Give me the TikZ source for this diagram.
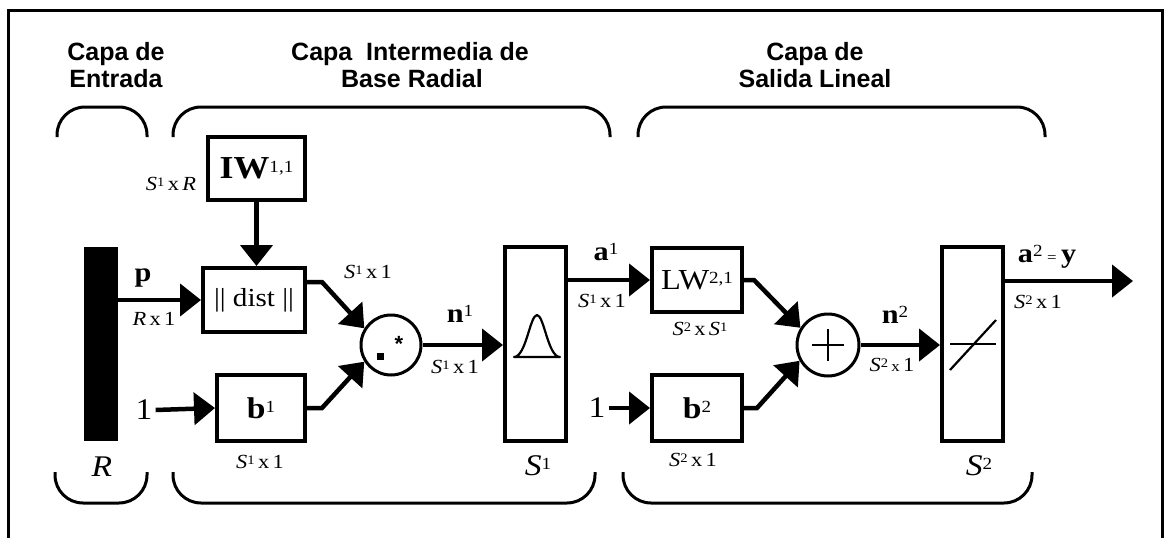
\documentclass[tikz,border=0pt]{standalone}
\usepackage{fontspec}
\setmainfont{Liberation Serif}[FakeStretch=1.12]
\newfontfamily\titlefont{Liberation Sans}
\usetikzlibrary{arrows.meta}
\newcommand{\lsup}[1]{\raisebox{4pt}{\fontsize{13}{13}\selectfont #1}}
\newcommand{\bsup}[1]{\raisebox{6pt}{\fontsize{17}{17}\selectfont\mdseries #1}}
\newcommand{\Sx}[1]{\textit{S}\lsup{#1}}
\begin{document}
\begin{tikzpicture}[x=1pt,y=-1pt,
  frame/.style={line width=3pt},
  brace/.style={line width=3pt, rounded corners=28pt},
  box/.style={draw, line width=4pt, inner sep=0pt, rectangle},
  ring/.style={draw, circle, line width=3pt, inner sep=0pt},
  conn/.style={line width=4.5pt, -{Triangle[length=21pt,width=32pt]}},
  title/.style={font=\titlefont\bfseries\fontsize{25}{27}\selectfont, inner sep=0pt, anchor=base},
  dimlab/.style={font=\fontsize{20}{22}\selectfont, inner sep=0pt, anchor=base},
  biglab/.style={font=\bfseries\fontsize{27}{29}\selectfont, inner sep=0pt, anchor=base},
  symlab/.style={font=\fontsize{30}{32}\selectfont, inner sep=0pt, anchor=base},
]
\useasboundingbox (0,0) rectangle (1170,538);
% frame
\draw[frame] (8,538) -- (8,10) -- (1162,10) -- (1162,538);
% titles
\node[title] (t1a) at (116,60) {Capa de};
\node[title] (t1b) at (116,87) {Entrada};
\node[title] (t2a) at (410,60) {Capa\ \ Intermedia de};
\node[title] (t2b) at (412,87) {Base Radial};
\node[title] (t3a) at (815,60) {Capa de};
\node[title] (t3b) at (815,87) {Salida Lineal};
% top braces
\draw[brace] (57,137) -- (57,107) -- (147,107) -- (147,137);
\draw[brace] (173,137) -- (173,107) -- (610,107) -- (610,137);
\draw[brace] (638,137) -- (638,107) -- (1045,107) -- (1045,137);
% bottom braces
\draw[brace] (55,472) -- (55,503) -- (147,503) -- (147,472);
\draw[brace] (173,472) -- (173,503) -- (595,503) -- (595,472);
\draw[brace] (623,472) -- (623,503) -- (1032,503) -- (1032,472);
% blocks
\node[fill=black, inner sep=0pt, minimum width=34pt, minimum height=194pt] (inbar) at (101,344) {};
\node[box, minimum width=97pt, minimum height=63pt] (IW) at (256.5,168.5)
  {\fontsize{32}{32}\selectfont\bfseries IW\bsup{1,1}};
\node[box, minimum width=102pt, minimum height=64pt] (dist) at (254,300)
  {\fontsize{26}{26}\selectfont || dist ||};
\node[box, minimum width=88pt, minimum height=66pt] (b1) at (261,408)
  {\fontsize{30}{30}\selectfont\bfseries b\bsup{1}};
\node[ring, minimum size=60pt] (dot) at (391,345) {};
\node[box, minimum width=61pt, minimum height=194pt] (radbas) at (535.5,344) {};
\node[box, minimum width=90pt, minimum height=64pt] (LW) at (697,280)
  {\fontsize{29}{29}\selectfont LW\bsup{2,1}};
\node[box, minimum width=90pt, minimum height=66pt] (b2) at (697,408)
  {\fontsize{30}{30}\selectfont\bfseries b\bsup{2}};
\node[ring, minimum size=62pt] (plus) at (828,345) {};
\node[box, minimum width=61pt, minimum height=194pt] (purelin) at (972.5,344) {};
% symbols inside
\fill (376.5,352.5) rectangle ++(7,7);
\node[font=\titlefont\bfseries\fontsize{22}{22}\selectfont, inner sep=0pt, anchor=base] (star) at (399,351) {*};
\draw[line width=2.2pt, line join=round]
  (514,357) .. controls (526,357) and (530,315) .. (537,315)
  .. controls (544,315) and (548,357) .. (560,357) -- cycle;
\draw[line width=2.5pt] (812,345) -- (844,345) (828,329) -- (828,361);
\draw[line width=1.2pt] (950,344) -- (996,344);
\draw[line width=2.2pt] (950,370) -- (996,320);
% input labels
\node[symlab, anchor=center, inner sep=3pt] (one1) at (144,410) {1};
\node[symlab, anchor=center, inner sep=3pt] (one2) at (597,408) {1};
% connectors
\draw[conn] (inbar.east |- dist.west) -- (dist.west);
\draw[conn] (IW.south) -- (IW.south |- dist.north);
\draw[conn] (one1.east) -- (b1.west);
\draw[conn] ([yshift=18pt]dist.east) -- ++(15,0) -- (dot.148);
\draw[conn] (b1.east) -- ++(15,0) -- (dot.212);
\draw[conn] (dot.east) -- (radbas.west |- dot.east);
\draw[conn] (radbas.east |- LW.west) -- (LW.west);
\draw[conn] (one2.east) -- (b2.west);
\draw[conn] (LW.east) -- ++(10,0) -- (plus.148);
\draw[conn] (b2.east) -- ++(13,0) -- (plus.209);
\draw[conn] (plus.east) -- (purelin.west |- plus.east);
\coordinate (outend) at (1133,281);
\draw[conn] (purelin.east |- outend) -- (outend);
% labels
\node[dimlab] (lSxR) at (171,190) {\Sx{1}\,x\,\textit{R}};
\node[biglab] (lp) at (143,281) {p};
\node[dimlab] (lRx1) at (154,325) {\textit{R}\,x\,1};
\node[dimlab] (lS1a) at (368,278) {\Sx{1}\,x\,1};
\node[biglab] (ln1) at (460,322) {n\bsup{1}};
\node[dimlab] (lS1b) at (455,373) {\Sx{1}\,x\,1};
\node[dimlab] (lS1c) at (260,468) {\Sx{1}\,x\,1};
\node[symlab] (lR) at (102,476) {\textit{R}};
\node[symlab] (lS1) at (538,475) {\textit{S}\bsup{1}};
\node[biglab] (la1) at (606,260) {a\bsup{1}};
\node[dimlab] (lS1d) at (602,307) {\Sx{1}\,x\,1};
\node[dimlab] (lS2S1) at (700,335) {\Sx{2}\,x\,\Sx{1}};
\node[dimlab] (lS2a) at (693,466) {\Sx{2}\,x\,1};
\node[biglab] (ln2) at (895,323) {n\bsup{2}};
\node[dimlab] (lS2b) at (892,371) {\Sx{2}\,{\fontsize{15}{15}\selectfont x}\,1};
\node[symlab] (lS2) at (979,475) {\textit{S}\bsup{2}};
\node[biglab] (la2) at (1047,262) {a\bsup{2}\,{\fontsize{15}{15}\selectfont\mdseries =}\,y};
\node[dimlab] (lS2c) at (1038,308) {\Sx{2}\,x\,1};
\end{tikzpicture}
\end{document}
